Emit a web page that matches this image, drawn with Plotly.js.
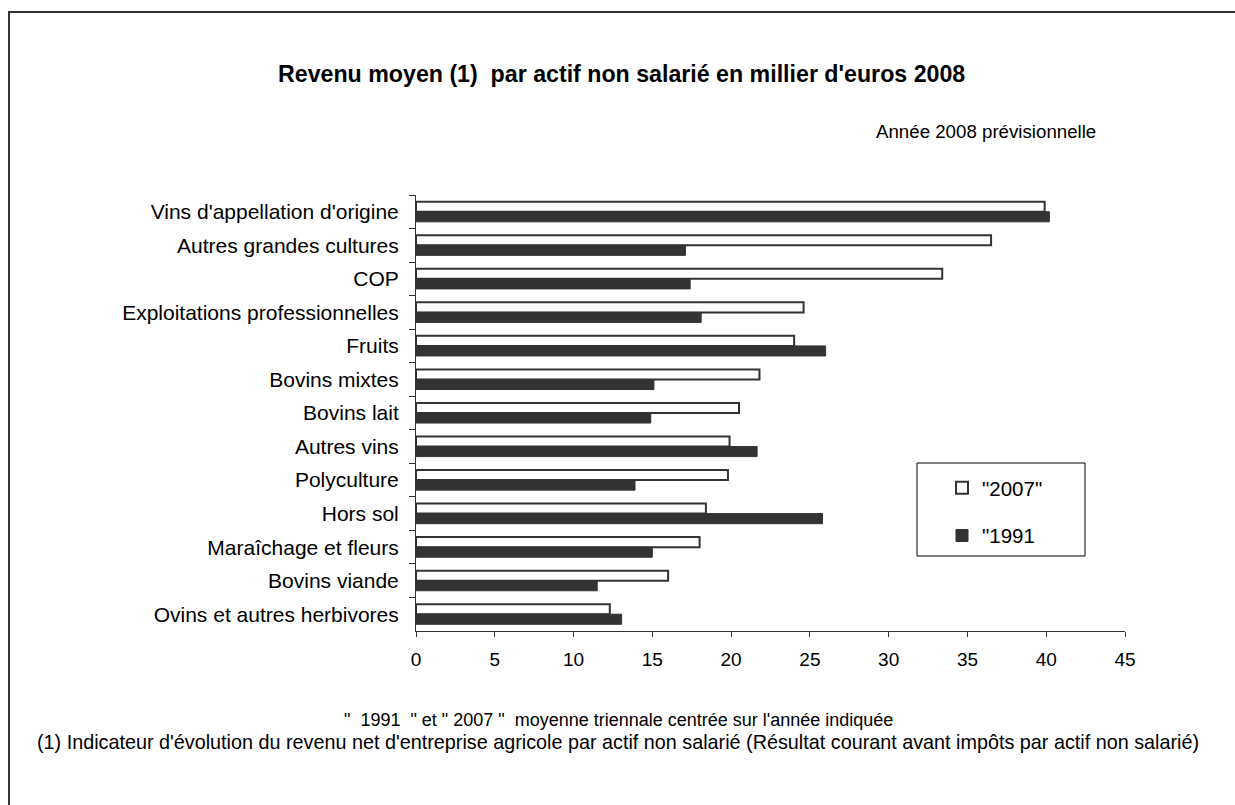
<!DOCTYPE html>
<html>
<head>
<meta charset="utf-8">
<script src="https://cdn.plot.ly/plotly-3.0.1.min.js"></script>
<style>html,body{margin:0;padding:0;background:#fff;}#chart{width:1235px;height:805px;}</style>
</head>
<body>
<div id="chart"></div>
<script>
var categories = ["Vins d'appellation d'origine","Autres grandes cultures","COP","Exploitations professionnelles","Fruits","Bovins mixtes","Bovins lait","Autres vins","Polyculture","Hors sol","Maraîchage et fleurs","Bovins viande","Ovins et autres herbivores"];
var values2007 = [39.9, 36.5, 33.4, 24.6, 24.0, 21.8, 20.5, 19.9, 19.8, 18.4, 18.0, 16.0, 12.3];
var values1991 = [40.2, 17.1, 17.4, 18.1, 26.0, 15.1, 14.9, 21.65, 13.9, 25.8, 15.0, 11.5, 13.05];
var xTicks = [0,5,10,15,20,25,30,35,40,45];

var font = "Liberation Sans, Arial, sans-serif";
var traces = [
  {type:'bar', orientation:'h', name:'"2007"', legendgroup:'a', y:categories, x:values2007,
   marker:{color:'#ffffff', line:{color:'#333333', width:2}}},
  {type:'bar', orientation:'h', name:'"1991', legendgroup:'b', y:categories, x:values1991,
   marker:{color:'#333333', line:{color:'#333333', width:1}}}
];
var L = 416, R = 1125, T = 195, B = 631;
function px(x){return (x-L)/(R-L);}
function py(y){return (B-y)/(B-T);}
var layout = {
  width:1235, height:805,
  margin:{l:L, r:1235-R, t:T, b:805-B, pad:0},
  paper_bgcolor:'#fff', plot_bgcolor:'#fff',
  font:{family:font, color:'#000', size:20},
  barmode:'group', bargap:0.4, bargroupgap:0,
  showlegend:true,
  legend:{x:px(942), y:py(468), xanchor:'left', yanchor:'top', bgcolor:'rgba(0,0,0,0)',
          borderwidth:0, font:{size:20.5, family:font},
          itemwidth:30, tracegroupgap:18, traceorder:'grouped'},
  xaxis:{range:[0,45], tickvals:xTicks, ticktext:xTicks.map(String), showgrid:false, zeroline:false,
         showline:true, linecolor:'#333', linewidth:1, ticks:'outside', ticklen:5, tickcolor:'#333',
         tickfont:{size:19, family:font}, ticklabelstandoff:6, fixedrange:true},
  yaxis:{type:'category', categoryorder:'array', categoryarray:categories, autorange:'reversed',
         showgrid:false, zeroline:false, showline:true, linecolor:'#333', linewidth:1,
         ticks:'outside', tickson:'boundaries', ticklen:6, tickcolor:'#333',
         tickfont:{size:21, family:font}, ticklabelstandoff:12},
  shapes:[{type:'rect', xref:'paper', yref:'paper', x0:px(9), x1:px(1270), y0:py(840), y1:py(12),
           line:{color:'#333', width:2}, fillcolor:'rgba(0,0,0,0)'},
          {type:'rect', xref:'paper', yref:'paper', x0:px(917), x1:px(1085), y0:py(556), y1:py(463),
           line:{color:'#000', width:1}, fillcolor:'rgba(0,0,0,0)'}],
  annotations:[
    {text:"<b>Revenu moyen (1)  par actif non salarié en millier d'euros 2008</b>", xref:'paper', yref:'paper',
     x:px(621), y:py(74), xanchor:'center', yanchor:'middle', showarrow:false, font:{size:23.2, family:font}},
    {text:"Année 2008 prévisionnelle", xref:'paper', yref:'paper', x:px(1098), y:py(131),
     xanchor:'right', yanchor:'middle', showarrow:false, font:{size:18.7, family:font}},
    {text:"\"  1991  \" et \" 2007 \"  moyenne triennale centrée sur l'année indiquée", xref:'paper', yref:'paper',
     x:px(618), y:py(720), xanchor:'center', yanchor:'middle', showarrow:false, font:{size:18, family:font}},
    {text:"(1) Indicateur d'évolution du revenu net d'entreprise agricole par actif non salarié (Résultat courant avant impôts par actif non salarié)",
     xref:'paper', yref:'paper', x:px(618), y:py(742), xanchor:'center', yanchor:'middle', showarrow:false, font:{size:19.8, family:font}}
  ]
};
Plotly.newPlot('chart', traces, layout, {displayModeBar:false, staticPlot:true});
</script>
</body>
</html>
